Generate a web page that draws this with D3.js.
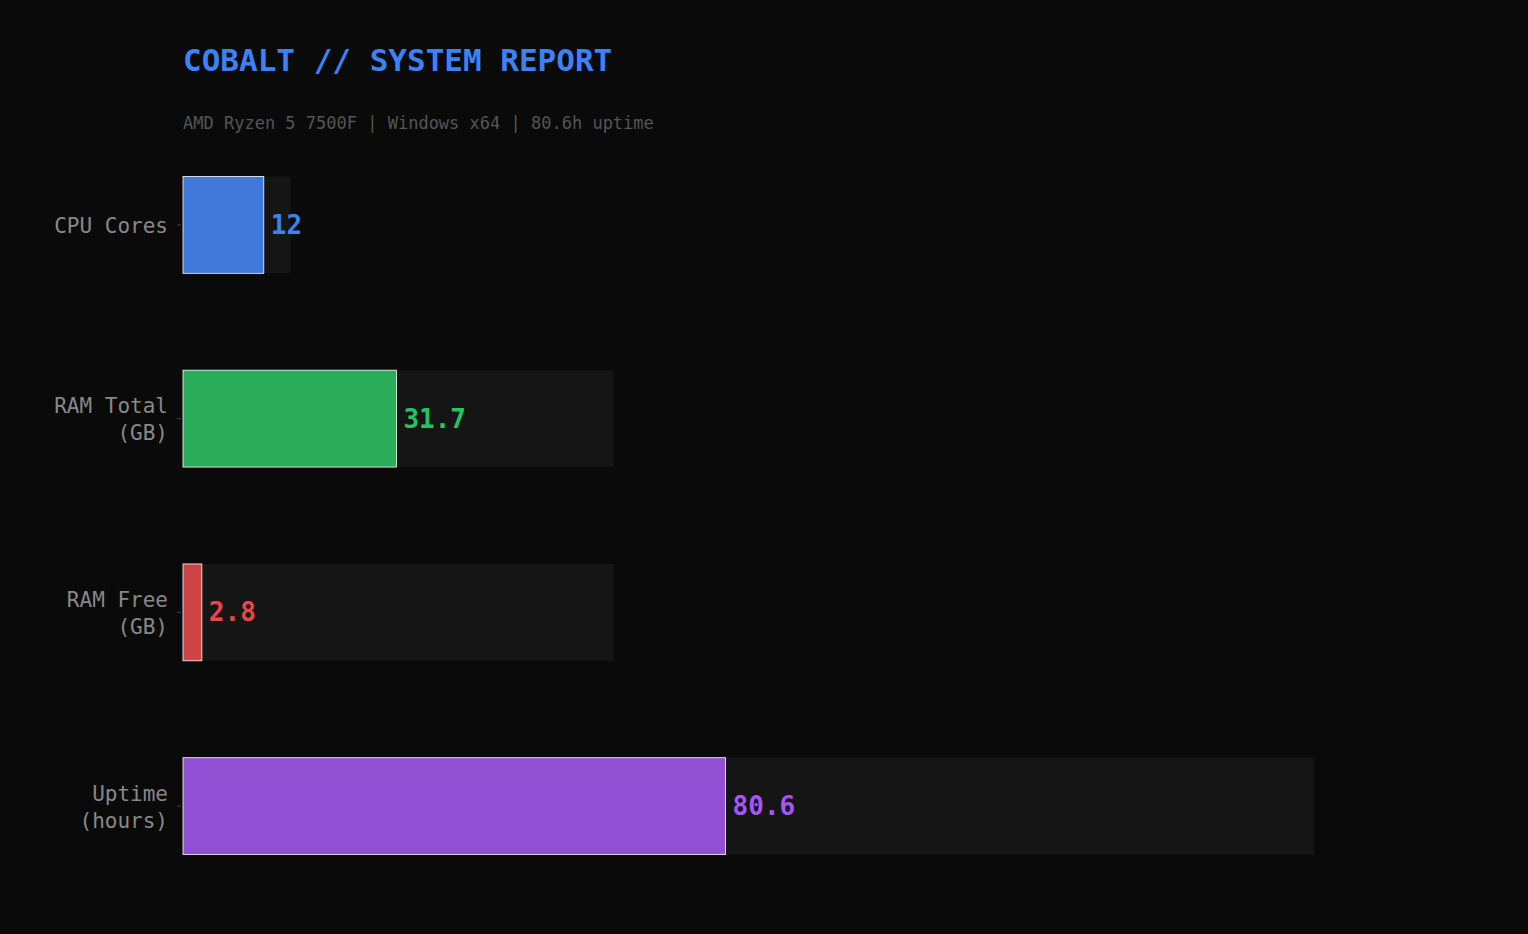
<!DOCTYPE html>
<html><head><meta charset="utf-8">
<script src="https://cdn.jsdelivr.net/npm/d3@7"></script>
<style>body{margin:0;background:#0a0a0a}</style>
</head><body><svg id="c" width="1528" height="934"></svg>
<script>
// chart data
var labels = [["CPU Cores"], ["RAM Total", "(GB)"], ["RAM Free", "(GB)"], ["Uptime", "(hours)"]]
var values = [12, 31.7, 2.8, 80.6]
var maxes = [16, 64, 64, 168]
var valueText = ["12", "31.7", "2.8", "80.6"]
var barColors = ["#3f78d8", "#2aac5a", "#cc4444", "#9150d4"]
var textColors = ["#3b82f6", "#22c55e", "#ef4444", "#a855f7"]

var svg = d3.select("#c")
var font = "DejaVu Sans Mono, monospace"
svg.append("rect").attr("width", 1528).attr("height", 934).attr("fill", "#0a0a0a")

var x = d3.scaleLinear().domain([0, 168]).range([183, 1314])
var y = d3.scaleBand().domain(d3.range(values.length)).range([128, 903]).paddingInner(0.5).paddingOuter(0.25)

svg.append("text").attr("x", 183).attr("y", 71).attr("fill", "#3b82f6")
  .style("font", "bold 31px " + font).text("COBALT // SYSTEM REPORT")
svg.append("text").attr("x", 183).attr("y", 129).attr("fill", "#555")
  .style("font", "17px " + font).text("AMD Ryzen 5 7500F | Windows x64 | 80.6h uptime")

var g = svg.selectAll("g.row").data(values).enter().append("g").attr("class", "row")

g.append("rect").attr("x", x(0)).attr("y", (d, i) => y(i))
  .attr("width", (d, i) => x(maxes[i]) - x(0)).attr("height", y.bandwidth()).attr("fill", "#151515")
g.append("rect").attr("x", x(0)).attr("y", (d, i) => y(i))
  .attr("width", d => x(d) - x(0)).attr("height", y.bandwidth())
  .attr("fill", (d, i) => barColors[i]).attr("stroke", "#fff").attr("stroke-width", 0.8)
g.append("text").attr("x", d => x(d) + 7).attr("y", (d, i) => y(i) + y.bandwidth() / 2 + 9)
  .attr("fill", (d, i) => textColors[i]).style("font", "bold 26px " + font)
  .text((d, i) => valueText[i])

// axis labels
g.append("line").attr("x1", 177).attr("x2", 181)
  .attr("y1", (d, i) => y(i) + y.bandwidth() / 2).attr("y2", (d, i) => y(i) + y.bandwidth() / 2)
  .attr("stroke", "#444")
g.each(function (d, i) {
  var lines = labels[i]
  var cy = y(i) + y.bandwidth() / 2
  var t = d3.select(this).append("text").attr("text-anchor", "end").attr("fill", "#888")
    .style("font", "21px " + font)
  lines.forEach((l, k) => {
    t.append("tspan").attr("x", 168)
      .attr("y", cy + 8 + (k - (lines.length - 1) / 2) * 27).text(l)
  })
})
</script></body></html>
